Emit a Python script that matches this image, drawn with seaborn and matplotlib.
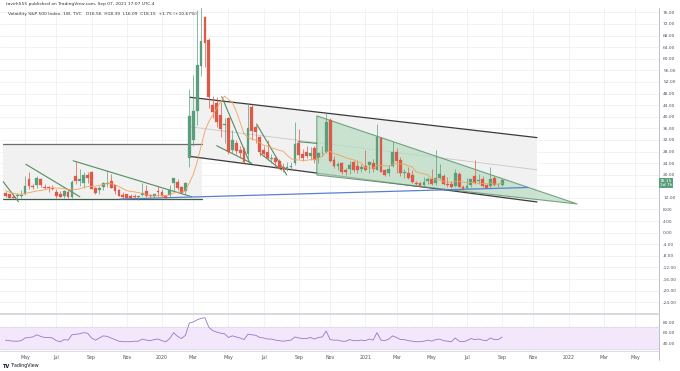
import matplotlib
matplotlib.use("Agg")
import matplotlib.pyplot as plt
import numpy as np
import pandas as pd
import seaborn as sns
from matplotlib.patches import Polygon, Rectangle

sns.set_style("white")
plt.rcParams['font.family'] = ['DejaVu Sans']

# ---------------- data (weekly VIX, first bar = week of 2019-04-01) ----------------
start_date = "2019-04-01"
opens = [13.7, 13.2, 12.2, 12.6, 12.8, 13.2, 18.4, 16.0, 16.5, 18.5,
         15.9, 15.6, 15.5, 14.1, 13.3, 12.6, 14.1, 12.3, 19.6, 17.9,
         17.1, 20.0, 21.0, 15.3, 14.7, 15.6, 16.7, 18.0, 16.3, 14.6,
         12.9, 13.2, 12.8, 12.5, 12.3, 13.0, 14.4, 13.0, 12.7, 14.5,
         14.0, 12.5, 12.9, 17.0, 17.5, 15.7, 14.4, 25.9, 32.0, 42.0,
         57.5, 74.4, 66.4, 44.0, 44.6, 40.6, 37.1, 39.5, 28.5, 31.0,
         28.5, 29.0, 27.2, 43.5, 36.5, 33.0, 28.5, 28.0, 25.5, 25.7,
         24.8, 22.6, 22.3, 22.6, 23.9, 30.8, 27.0, 27.8, 26.5, 29.2,
         25.7, 27.4, 27.9, 39.0, 25.1, 23.0, 24.0, 21.6, 21.9, 24.5,
         23.0, 22.0, 23.0, 23.5, 24.0, 21.6, 32.6, 21.5, 20.5, 23.0,
         27.9, 25.0, 20.5, 20.6, 20.0, 17.3, 17.0, 16.5, 17.8, 18.6,
         17.0, 19.0, 19.5, 16.8, 16.7, 16.2, 20.4, 15.8, 15.4, 16.5,
         19.5, 17.8, 18.5, 16.3, 16.0, 19.0, 16.3, 16.56]
highs = [14.2, 13.5, 13.2, 13.8, 14.8, 19.6, 20.8, 16.9, 19.7, 19.0,
         16.7, 16.2, 16.6, 15.0, 14.4, 14.7, 14.6, 18.3, 24.6, 22.1,
         21.0, 21.0, 21.3, 15.6, 16.0, 17.6, 21.5, 20.3, 16.6, 15.0,
         14.1, 13.2, 13.3, 13.3, 12.8, 17.0, 16.5, 13.3, 13.5, 16.2,
         15.0, 13.0, 16.4, 19.0, 18.5, 16.0, 17.4, 49.5, 54.4, 76.8,
         85.5, 74.7, 67.0, 47.0, 46.9, 45.0, 39.5, 40.0, 35.5, 32.1,
         30.0, 29.5, 44.4, 44.4, 37.0, 33.5, 30.0, 32.0, 27.0, 26.5,
         25.5, 24.0, 24.3, 24.5, 38.3, 35.9, 28.7, 29.9, 29.5, 29.8,
         28.0, 30.0, 41.2, 39.5, 26.5, 24.5, 24.5, 22.2, 24.7, 24.7,
         25.0, 23.8, 28.6, 24.7, 25.5, 37.5, 33.0, 22.0, 23.2, 31.2,
         29.2, 26.0, 22.0, 22.5, 21.6, 18.0, 17.5, 19.3, 19.3, 22.0,
         28.4, 23.8, 20.2, 19.2, 17.9, 22.0, 20.9, 16.4, 19.0, 18.5,
         25.1, 20.1, 19.4, 16.8, 22.5, 19.5, 17.1, 18.39]
lows = [12.4, 11.9, 11.9, 11.9, 12.0, 13.0, 15.0, 15.0, 15.5, 15.8,
        14.9, 14.0, 14.6, 12.0, 12.2, 12.1, 12.0, 12.1, 16.7, 16.2,
        15.3, 17.0, 14.9, 13.3, 13.3, 14.6, 15.6, 15.5, 13.3, 12.6,
        12.0, 11.9, 11.8, 11.7, 11.4, 12.5, 12.3, 11.9, 11.8, 12.4,
        12.3, 11.7, 12.2, 14.5, 14.6, 13.6, 13.4, 22.5, 30.0, 37.0,
        54.0, 57.0, 43.0, 39.6, 36.6, 33.0, 31.0, 27.0, 27.4, 27.0,
        25.8, 23.9, 24.6, 31.9, 30.8, 26.3, 26.3, 25.1, 23.9, 22.3,
        21.9, 21.1, 21.3, 21.6, 23.5, 25.5, 24.9, 25.7, 25.0, 24.0,
        24.0, 26.5, 27.5, 24.5, 22.4, 21.7, 20.4, 20.0, 20.3, 20.9,
        20.6, 20.9, 21.3, 20.6, 20.9, 21.5, 20.9, 19.6, 19.4, 22.5,
        20.5, 19.7, 18.9, 18.6, 17.2, 16.3, 16.0, 16.0, 16.7, 16.5,
        16.6, 18.5, 16.3, 15.9, 15.3, 15.8, 15.6, 14.8, 15.2, 15.8,
        16.8, 16.8, 15.9, 15.3, 15.4, 16.1, 15.8, 16.09]
closes = [12.82, 12.01, 12.09, 12.73, 12.87, 16.04, 15.96, 15.85, 18.71, 16.30,
          15.28, 15.40, 15.08, 12.57, 12.39, 14.45, 12.16, 17.61, 17.97, 18.47,
          19.87, 18.98, 15.00, 13.74, 15.32, 17.22, 17.04, 15.58, 14.25, 12.65,
          12.30, 12.07, 12.05, 12.34, 12.62, 13.62, 12.63, 12.51, 13.43, 14.02,
          12.56, 12.10, 14.56, 18.84, 15.47, 13.68, 17.08, 40.11, 41.94, 57.83,
          66.04, 65.54, 46.80, 41.67, 38.15, 35.93, 37.19, 27.98, 31.89, 28.16,
          27.51, 24.52, 36.09, 35.12, 34.73, 27.68, 27.29, 25.68, 25.84, 24.46,
          22.21, 22.05, 22.54, 22.96, 30.75, 26.87, 25.83, 26.38, 27.63, 25.00,
          27.41, 27.55, 38.02, 24.86, 23.10, 23.70, 20.84, 20.79, 23.31, 21.57,
          21.53, 22.75, 21.56, 24.34, 21.91, 33.09, 20.87, 19.97, 22.05, 27.95,
          24.66, 20.69, 20.95, 18.86, 17.33, 16.69, 16.25, 17.33, 18.61, 16.69,
          18.81, 20.15, 16.76, 16.42, 15.65, 20.70, 15.62, 15.07, 16.18, 18.45,
          17.20, 18.24, 16.15, 15.45, 18.56, 16.39, 16.41, 18.15]
ma10 = [14.5, 14.0, 13.6, 13.3, 13.2, 13.5, 13.8, 14.1, 14.4, 14.54,
        14.78, 15.12, 15.42, 15.40, 15.36, 15.20, 14.82, 14.99, 14.92, 15.14,
        15.60, 15.95, 15.94, 16.06, 16.35, 16.63, 17.12, 16.91, 16.54, 15.96,
        15.20, 14.51, 14.22, 14.08, 13.81, 13.45, 13.01, 12.70, 12.62, 12.76,
        12.79, 12.79, 13.04, 13.69, 13.98, 13.98, 14.43, 17.19, 20.04, 24.42,
        29.77, 35.11, 38.34, 40.62, 42.89, 45.11, 47.12, 45.91, 44.90, 41.94,
        38.08, 33.98, 32.91, 32.26, 31.91, 31.09, 30.10, 29.87, 29.26, 28.89,
        28.36, 28.12, 26.76, 25.55, 25.15, 25.07, 24.92, 24.99, 25.17, 25.23,
        25.75, 26.30, 27.84, 28.03, 27.27, 26.95, 26.45, 25.89, 25.46, 25.12,
        24.53, 24.05, 22.40, 22.35, 22.23, 23.17, 23.17, 23.09, 22.97, 23.60,
        23.92, 23.71, 23.65, 23.10, 22.65, 21.01, 20.54, 20.28, 19.94, 18.81,
        18.23, 18.17, 17.75, 17.51, 17.34, 17.74, 17.68, 17.45, 17.21, 17.38,
        17.22, 17.03, 16.97, 16.87, 17.16, 16.73, 16.81, 17.12]
rsi = [46, 45, 44, 44, 45, 50, 51, 52, 56, 53,
       51, 51, 50, 45, 43, 47, 46, 56, 57, 58,
       60, 59, 50, 46, 50, 54, 53, 50, 47, 44,
       43, 43, 43, 44, 44, 48, 46, 45, 47, 48,
       45, 43, 49, 60, 53, 49, 55, 78, 80, 84,
       87, 88, 70, 64, 61, 59, 58, 51, 54, 52,
       50, 47, 57, 56, 55, 51, 50, 48, 48, 46,
       45, 44, 45, 46, 52, 50, 49, 49, 51, 48,
       51, 52, 63, 47, 46, 46, 44, 44, 47, 45,
       45, 46, 45, 48, 46, 60, 46, 45, 48, 54,
       51, 47, 47, 45, 44, 43, 43, 44, 46, 44,
       47, 48, 45, 44, 43, 50, 44, 43, 45, 49,
       47, 48, 46, 45, 50, 47, 47, 52]

price_ticks = [76, 72, 68, 64, 60, 56, 52, 48, 44, 40, 36, 32, 28, 24, 20, 12,
               8, 4, 0, -4, -8, -12, -16, -20, -24]
rsi_ticks = [80, 60, 40]

# drawings: (bar index, price)
rect_2019 = [(-0.6, 11.6), (50.2, 30.6)]
channel_top = [(47.2, 46.7), (135.9, 32.8)]
channel_bot = [(47.2, 26.3), (135.9, 10.6)]
triangle = [(79.6, 40.3), (79.6, 19.9), (146.2, 9.9)]
blue_line = [(29.3, 11.6), (133.6, 15.6)]
green_lines = [
    [(-0.6, 17.6), (3.3, 10.7)],
    [(5.2, 23.6), (19.0, 12.4)],
    [(17.3, 24.8), (47.6, 12.4)],
    [(55.3, 46.9), (62.5, 23.9)],
    [(54.0, 30.0), (63.0, 23.9)],
    [(64.2, 37.5), (71.9, 19.9)],
    [(65.1, 27.4), (70.6, 21.6)],
    [(74.8, 31.4), (79.6, 30.8)],
]

# ---------------- layout ----------------
W, H = 680, 371
fig = plt.figure(figsize=(W / 100, H / 100), dpi=100)
fig.patch.set_facecolor("white")

def px_axes(x0, y0, x1, y1):
    return fig.add_axes([x0 / W, 1 - y1 / H, (x1 - x0) / W, (y1 - y0) / H])

ax = px_axes(0, 8, 659, 313)
axr = px_axes(0, 313, 659, 351)

n = len(closes)
idx = np.arange(n)
all_dates = pd.date_range(start_date, periods=175, freq="W-MON")
df = pd.DataFrame({"i": idx, "open": opens, "high": highs, "low": lows,
                   "close": closes, "ma": ma10, "rsi": rsi})

xmin, xmax = -1.41, 167.1
grid_c = "#eef0f5"

# month ticks (first bar of every second month)
tick_pos, tick_lab = [], []
prev_m = None
for k, d in enumerate(all_dates):
    if d.month != prev_m:
        if d.month % 2 == 1:
            tick_pos.append(k)
            tick_lab.append(str(d.year) if d.month == 1 else d.strftime("%b"))
        prev_m = d.month
pairs = [(p, l) for p, l in zip(tick_pos, tick_lab) if xmin < p < xmax]
tick_pos = [p for p, _ in pairs]
tick_lab = [l for _, l in pairs]

for a in (ax, axr):
    a.set_xlim(xmin, xmax)
    for p in tick_pos:
        a.axvline(p, color=grid_c, lw=0.6, zorder=0)
    for s in ("top", "left", "bottom"):
        a.spines[s].set_visible(False)
    a.spines["right"].set_color("#b2b5be")
    a.spines["right"].set_linewidth(0.6)

ax.set_ylim(-27.7, 77.5)
for t in price_ticks + [16]:
    ax.axhline(t, color=grid_c, lw=0.6, zorder=0)

# drawings
(rx0, ry0), (rx1, ry1) = rect_2019
ax.add_patch(Rectangle((rx0, ry0), rx1 - rx0, ry1 - ry0, facecolor="#f1f1f2",
                       edgecolor="none", zorder=1))
ax.plot([rx0, rx1], [ry1, ry1], color="#6b6b6b", lw=0.9, zorder=2)
ax.plot([rx0, rx1], [ry0, ry0], color="#3f5f48", lw=0.9, zorder=2)

chan = Polygon([channel_top[0], channel_top[1], channel_bot[1], channel_bot[0]],
               closed=True, facecolor="#f1f1f2", edgecolor="none", zorder=1)
ax.add_patch(chan)
ax.plot(*zip(*channel_top), color="#3a3a3a", lw=0.9, zorder=2)
ax.plot(*zip(*channel_bot), color="#3a3a3a", lw=0.9, zorder=2)
mid = [(channel_top[0][0], (channel_top[0][1] + channel_bot[0][1]) / 2),
       (channel_top[1][0], (channel_top[1][1] + channel_bot[1][1]) / 2)]
ax.plot(*zip(*mid), color="#c8c8c8", lw=0.6, zorder=2)

ax.add_patch(Polygon(triangle, closed=True, facecolor="#bcdcc4", alpha=0.75,
                     edgecolor="#4f8a60", lw=0.8, zorder=2))
for gl in green_lines:
    ax.plot(*zip(*gl), color="#4f8f5f", lw=0.8, zorder=4)
ax.plot(*zip(*blue_line), color="#5b7fd0", lw=0.9, zorder=4)

# candles
up_c, dn_c = "#5a9e7c", "#de5a48"
cols = [up_c if c >= o else dn_c for o, c in zip(opens, closes)]
ax.vlines(df["i"], df["low"], df["high"], colors=cols, lw=0.5, zorder=5)
bottoms = np.minimum(df["open"], df["close"])
heights = np.maximum(np.abs(df["close"] - df["open"]), 0.25)
ax.bar(df["i"], heights, bottom=bottoms, width=0.72, color=cols, edgecolor=cols,
       lw=0.2, zorder=6)
sns.lineplot(data=df, x="i", y="ma", ax=ax, color="#f4a259", lw=0.6, zorder=7)

ax.yaxis.tick_right()
ax.set_yticks(price_ticks)
ax.set_yticklabels([f"{t:.2f}" for t in price_ticks])
ax.tick_params(axis="y", length=0, pad=3, labelsize=3.2, labelcolor="#50535e")
ax.set_xticks([])
ax.set_xlabel("")
ax.set_ylabel("")

# RSI pane
axr.set_ylim(25.6, 96.9)
axr.axhspan(30, 70, color="#f3e7fb", zorder=1)
axr.axhline(70, color="#c9c9d0", lw=0.4, ls=(0, (3, 2)), zorder=2)
axr.axhline(30, color="#c9c9d0", lw=0.4, ls=(0, (3, 2)), zorder=2)
sns.lineplot(data=df, x="i", y="rsi", ax=axr, color="#9a76c9", lw=0.6, zorder=3)
axr.yaxis.tick_right()
axr.set_yticks(rsi_ticks)
axr.set_yticklabels([f"{t:.2f}" for t in rsi_ticks])
axr.tick_params(axis="y", length=0, pad=3, labelsize=3.2, labelcolor="#50535e")
axr.set_xticks(tick_pos)
axr.set_xticklabels(tick_lab)
axr.tick_params(axis="x", length=0, pad=3, labelsize=3.4, labelcolor="#50535e")
axr.set_xlabel("")
axr.set_ylabel("")

# separators
fig.add_artist(plt.Line2D([0, 659 / W], [1 - 313.5 / H] * 2, color="#d6d8de", lw=1.4))
fig.add_artist(plt.Line2D([0, 659 / W], [1 - 351 / H] * 2, color="#d6d8de", lw=0.6))
fig.add_artist(plt.Line2D([659 / W] * 2, [1 - 360 / H, 1 - 351 / H], color="#b2b5be", lw=0.6))

# texts
fig.text(6 / W, 1 - 4.5 / H, "tavirh555 published on TradingView.com, Sep 07, 2021 17:07 UTC-4",
         fontsize=3.2, color="#333333", va="center", ha="left")
fig.text(8 / W, 1 - 13.5 / H,
         "Volatility S&P 500 Index, 1W, TVC   O16.56  H18.39  L16.09  C18.15  +1.75 (+10.67%)",
         fontsize=3.2, color="#333333", va="center", ha="left")
fig.text(666 / W, 1 - 183 / H, "18.15\n3d 7h", fontsize=3.2, color="white",
         ha="center", va="center", linespacing=1.0,
         bbox=dict(boxstyle="square,pad=0.25", fc="#5a9e7c", ec="none"))
fig.text(3 / W, 1 - 366 / H, "TV", fontsize=3.6, color="#131722", weight="bold",
         va="center", ha="left")
fig.text(11 / W, 1 - 366 / H, "TradingView", fontsize=3.4, color="#131722",
         va="center", ha="left")

fig.savefig("out.png", dpi=100)
